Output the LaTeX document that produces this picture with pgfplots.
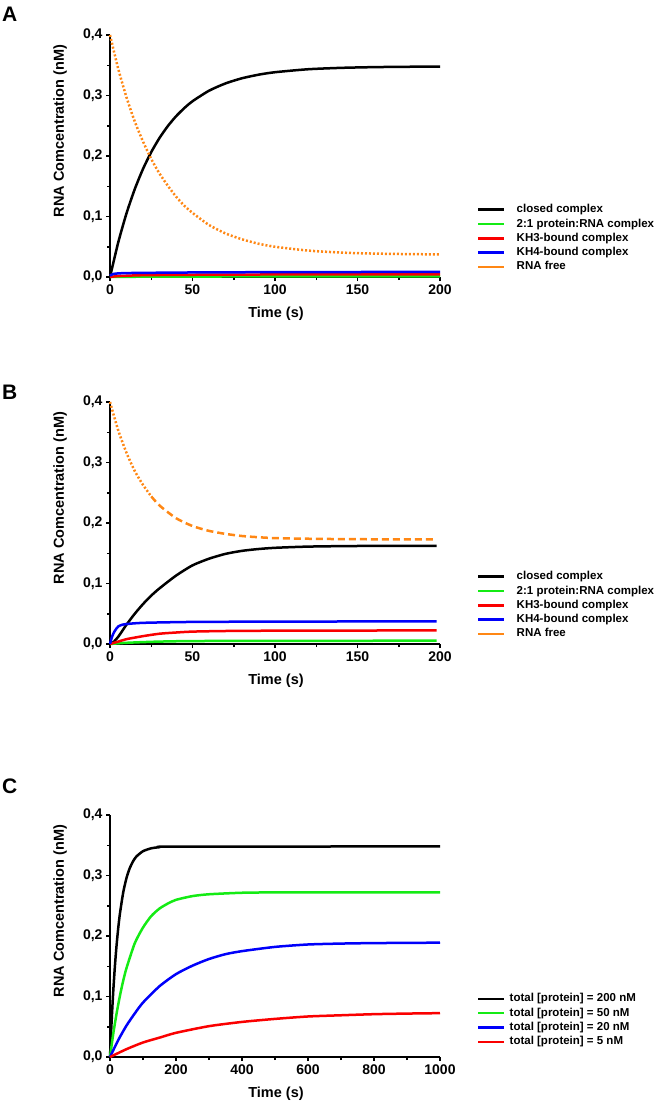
\documentclass[border=0pt]{standalone}
\usepackage{pgfplots}
\pgfplotsset{compat=1.18}
\usepackage{fontspec}
\setmainfont{Liberation Sans}
\definecolor{cgreen}{RGB}{20,235,20}
\definecolor{cred}{RGB}{250,0,0}
\definecolor{cblue}{RGB}{0,0,250}
\definecolor{corange}{RGB}{255,135,20}
\pgfplotsset{
  panel/.style={
    scale only axis, width=330pt, height=242pt, anchor=south west,
    axis lines=left, axis line style={line width=2.3pt,-},
    enlargelimits=false, clip=false,
    xmin=0, ymin=0, ymax=0.4,
    ytick={0,0.1,0.2,0.3,0.4},
    minor x tick num=1, minor y tick num=1,
    tick align=outside, major tick length=4pt, minor tick length=3pt,
    every tick/.style={line width=1.5pt, black},
    /pgf/number format/assume math mode=true,
    /pgf/number format/1000 sep={},
    scaled ticks=false,
    yticklabel style={/pgf/number format/.cd, use comma, fixed, fixed zerofill, precision=1},
    ticklabel style={font=\fontsize{14pt}{14pt}\selectfont\bfseries},
    label style={font=\fontsize{14.5pt}{14.5pt}\selectfont\bfseries},
    xlabel={Time (s)}, ylabel={RNA Comcentration (nM)},
    xlabel style={at={(axis description cs:0.503,-0.153)}, anchor=center},
    ylabel style={at={(axis description cs:-0.1515,0.603)}, anchor=center},
    legend cell align=left,
    legend style={draw=none, fill=none, inner sep=0pt, anchor=north west,
      font=\fontsize{11.5pt}{11.5pt}\selectfont\bfseries, row sep=3.2pt,
      nodes={inner sep=0pt, text height=8.6pt, text depth=2.5pt},
      /tikz/every odd column/.append style={column sep=11pt}},
    legend image code/.code={\draw[#1, line width=2.5pt] (0pt,0pt) -- (26pt,0pt);},
  },
  curve/.style={line width=2.5pt, line join=round, smooth, tension=0.4},
}
\begin{document}
\begin{tikzpicture}
\useasboundingbox (0pt,0pt) rectangle (659pt,-1103pt);
\node[anchor=north west, inner sep=0pt, font=\fontsize{21pt}{21pt}\selectfont\bfseries] at (2pt,-7pt) {A};
\node[anchor=north west, inner sep=0pt, font=\fontsize{21pt}{21pt}\selectfont\bfseries] at (2pt,-385pt) {B};
\node[anchor=north west, inner sep=0pt, font=\fontsize{21pt}{21pt}\selectfont\bfseries] at (2pt,-779pt) {C};

% ---------------- Panel A ----------------
\begin{axis}[panel, at={(110pt,-277pt)}, xmax=200, xtick={0,50,100,150,200},
  legend style={at={(axis description cs:1.1121,0.3017)}}]
\addlegendimage{black}
\addlegendentry{closed complex}
\addlegendimage{cgreen}
\addlegendentry{2:1 protein:RNA complex}
\addlegendimage{cred}
\addlegendentry{KH3-bound complex}
\addlegendimage{cblue}
\addlegendentry{KH4-bound complex}
\addlegendimage{corange}
\addlegendentry{RNA free}
\addplot[curve, black, forget plot] coordinates {
(0,0) (5,0.0573) (10,0.1052) (15,0.1452) (20,0.1786) (25,0.2065) (30,0.2298) (35,0.2493) (40,0.2656) (45,0.2791) (50,0.2905) (60,0.3079) (70,0.3200) (80,0.3285) (90,0.3344) (100,0.3385) (120,0.3434) (140,0.3457) (160,0.3469) (180,0.3475) (200,0.3477)};
\addplot[curve, cgreen, forget plot] coordinates {
(0,0) (20,0.0005) (60,0.0008) (120,0.001) (200,0.001)};
\addplot[curve, cred, forget plot] coordinates {
(0,0) (5,0.0015) (20,0.003) (50,0.0037) (100,0.0042) (200,0.0045)};
\addplot[curve, cblue, forget plot] coordinates {
(0,0.002) (2,0.005) (10,0.0065) (50,0.0075) (100,0.008) (200,0.0085)};
\addplot[line width=2.5pt, corange, dash pattern=on 2pt off 2pt, smooth, tension=0.4, forget plot] coordinates {
(0,0.4) (5,0.344) (10,0.297) (15,0.257) (20,0.224) (25,0.195) (30,0.171) (35,0.151) (40,0.133) (45,0.118) (50,0.106) (60,0.086) (70,0.072) (80,0.0623) (90,0.055) (100,0.050) (120,0.0437) (140,0.0404) (160,0.0387) (180,0.0379) (200,0.0373)};
\end{axis}

% ---------------- Panel B ----------------
\begin{axis}[panel, at={(110pt,-644pt)}, xmax=200, xtick={0,50,100,150,200},
  legend style={at={(axis description cs:1.1121,0.3017)}}]
\addlegendimage{black}
\addlegendentry{closed complex}
\addlegendimage{cgreen}
\addlegendentry{2:1 protein:RNA complex}
\addlegendimage{cred}
\addlegendentry{KH3-bound complex}
\addlegendimage{cblue}
\addlegendentry{KH4-bound complex}
\addlegendimage{corange}
\addlegendentry{RNA free}
\addplot[curve, black, forget plot] coordinates {
(0,0) (2,0.003) (5,0.012) (10,0.032) (15,0.050) (20,0.066) (25,0.080) (30,0.092) (40,0.113) (50,0.130) (60,0.141) (70,0.149) (80,0.154) (90,0.157) (100,0.159) (120,0.161) (150,0.162) (198,0.162)};
\addplot[curve, cgreen, forget plot] coordinates {
(0,0) (10,0.002) (30,0.004) (60,0.005) (198,0.0055)};
\addplot[curve, cred, forget plot] coordinates {
(0,0) (5,0.004) (10,0.008) (20,0.013) (30,0.017) (40,0.019) (50,0.0205) (70,0.0215) (100,0.022) (198,0.0225)};
\addplot[curve, cblue, forget plot] coordinates {
(0,0) (1,0.010) (2,0.017) (3,0.022) (4,0.026) (5,0.029) (7,0.0315) (10,0.033) (20,0.035) (50,0.0365) (100,0.037) (198,0.0375)};
\addplot[line width=2.5pt, corange, dash pattern=on 2pt off 2pt, smooth, tension=0.4, forget plot] coordinates {
(0,0.4) (5,0.353) (10,0.316) (15,0.286) (20,0.263) (25,0.244)};
\addplot[line width=2.5pt, corange, dash pattern=on 7pt off 4pt, smooth, tension=0.4, forget plot] coordinates {
(25,0.244) (30,0.229) (40,0.208) (50,0.195) (60,0.187) (70,0.182) (80,0.1785) (90,0.1765) (100,0.175) (120,0.174) (150,0.1732) (198,0.173)};
\end{axis}

% ---------------- Panel C ----------------
\begin{axis}[panel, at={(110pt,-1057pt)}, xmax=1000, xtick={0,200,400,600,800,1000},
  legend style={at={(axis description cs:1.1121,0.264)}, /tikz/every odd column/.append style={column sep=4pt}}]
\addlegendimage{black}
\addlegendentry{total [protein] = 200 nM}
\addlegendimage{cgreen}
\addlegendentry{total [protein] = 50 nM}
\addlegendimage{cblue}
\addlegendentry{total [protein] = 20 nM}
\addlegendimage{cred}
\addlegendentry{total [protein] = 5 nM}
\addplot[curve, black, forget plot] coordinates {
(0,0) (5,0.060) (10,0.110) (15,0.1512) (20,0.1852) (25,0.2134) (30,0.2367) (40,0.2719) (50,0.2959) (60,0.3124) (70,0.3236) (80,0.3314) (100,0.3402) (125,0.345) (150,0.3468) (200,0.3478) (1000,0.348)};
\addplot[curve, cgreen, forget plot] coordinates {
(0,0) (10,0.039) (20,0.072) (30,0.101) (40,0.126) (50,0.147) (75,0.188) (100,0.214) (125,0.233) (150,0.2454) (175,0.2536) (200,0.2598) (250,0.266) (300,0.269) (400,0.2715) (500,0.272) (1000,0.272)};
\addplot[curve, cblue, forget plot] coordinates {
(0,0) (25,0.028) (50,0.052) (75,0.072) (100,0.090) (150,0.117) (200,0.137) (250,0.151) (300,0.162) (350,0.170) (400,0.175) (500,0.182) (600,0.186) (700,0.1875) (800,0.1883) (1000,0.189)};
\addplot[curve, cred, forget plot] coordinates {
(0,0) (50,0.013) (100,0.024) (150,0.032) (200,0.040) (300,0.051) (400,0.058) (500,0.063) (600,0.067) (700,0.069) (800,0.0708) (900,0.0718) (1000,0.0725)};
\end{axis}
\end{tikzpicture}
\end{document}
